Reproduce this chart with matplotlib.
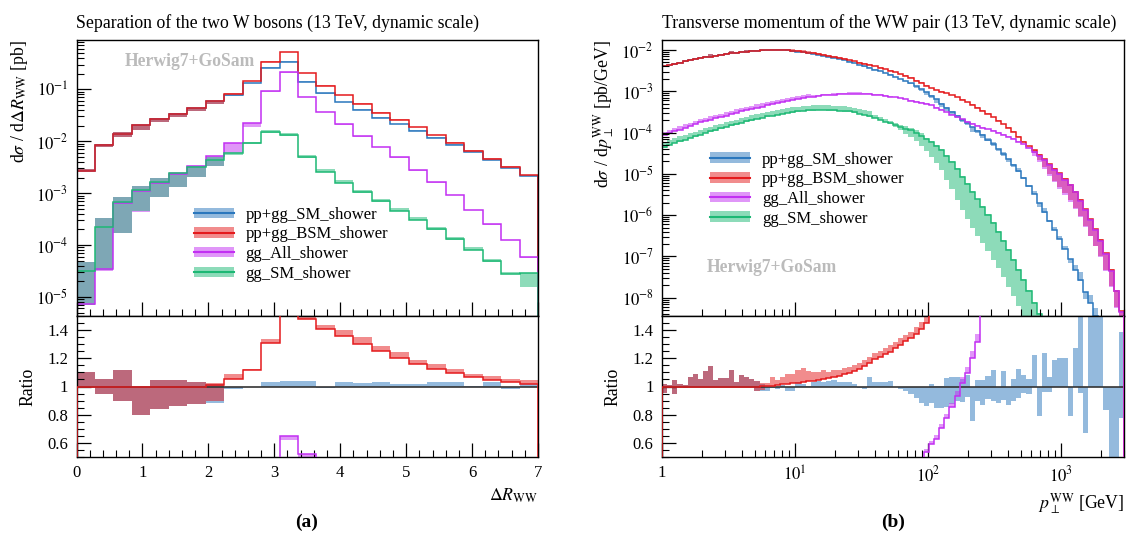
import numpy as np
import matplotlib
matplotlib.use("Agg")
import matplotlib.pyplot as plt
from matplotlib.patches import Patch
from matplotlib.lines import Line2D
from matplotlib import ticker

plt.rcParams['font.family'] = ['Liberation Serif', 'DejaVu Serif']
plt.rcParams['mathtext.fontset'] = 'stix'

names = ["pp+gg_SM_shower", "pp+gg_BSM_shower", "gg_All_shower", "gg_SM_shower"]
colors = ["#2a77bd", "#e41a1c", "#c22ff2", "#1db874"]

# ---- (a) Delta R_WW, 25 bins from 0 to 7
dr_edges = np.linspace(0, 7, 26)
dr_pp_sm = [2.7e-3, 8.3e-3, 0.0136, 0.0206, 0.0273, 0.0336, 0.043, 0.059, 0.077, 0.13, 0.26, 0.33, 0.139,
            0.083, 0.056, 0.040, 0.0285, 0.0214, 0.0159, 0.0116, 0.0086, 0.0062, 0.0044, 0.0031, 0.00216]
dr_pp_bsm = [2.7e-3, 8.3e-3, 0.0136, 0.0206, 0.0273, 0.0336, 0.043, 0.0597, 0.081, 0.145, 0.34, 0.515, 0.206,
             0.117, 0.076, 0.052, 0.0356, 0.0257, 0.0184, 0.013, 0.0094, 0.0066, 0.0046, 0.0032, 0.0022]
dr_gg_all = [7.4e-6, 3.4e-5, 6.5e-4, 1.1e-3, 1.6e-3, 2.3e-3, 3.3e-3, 5.1e-3, 9.4e-3, 0.022, 0.094, 0.214, 0.072,
             0.037, 0.0213, 0.0127, 7.9e-3, 4.9e-3, 2.8e-3, 1.63e-3, 9.3e-4, 4.8e-4, 2.5e-4, 1.27e-4, 6.0e-5]
dr_gg_sm = [3.2e-5, 2.2e-4, 6.7e-4, 1.16e-3, 1.65e-3, 2.4e-3, 3.2e-3, 4.3e-3, 5.8e-3, 9.3e-3, 0.0148, 0.0131, 4.9e-3,
            2.6e-3, 1.6e-3, 1.03e-3, 6.9e-4, 4.6e-4, 3.1e-4, 2.0e-4, 1.3e-4, 8.2e-5, 4.9e-5, 2.8e-5, 2.9e-5]
# relative uncertainty envelopes
dr_pp_sm_lo = [0.995, 0.95, 0.895, 0.80, 0.84, 0.865, 0.875, 0.885, 0.98, 0.995, 1.0, 1.0, 1.0,
               0.99, 1.0, 1.0, 1.0, 1.0, 1.0, 1.0, 1.0, 1.0, 1.0, 0.98, 1.0]
dr_pp_sm_hi = [1.10, 1.05, 1.12, 1.0, 1.045, 1.045, 1.035, 1.015, 1.0, 1.0, 1.03, 1.04, 1.04,
               1.0, 1.03, 1.025, 1.03, 1.02, 1.02, 1.035, 1.03, 1.005, 1.03, 1.0, 1.015]
dr_pp_bsm_lo = [0.995, 0.95, 0.895, 0.80, 0.84, 0.865, 0.875, 0.885, 1.0, 1.0, 1.0, 1.0, 1.0,
                1.0, 1.0, 1.0, 1.0, 1.0, 1.0, 1.0, 1.0, 1.0, 1.0, 1.0, 1.0]
dr_pp_bsm_hi = [1.10, 1.05, 1.12, 1.0, 1.045, 1.045, 1.035, 1.015, 1.035, 1.01, 1.025, 1.025, 1.015,
                1.02, 1.03, 1.04, 1.03, 1.035, 1.025, 1.035, 1.03, 1.025, 1.03, 1.02, 1.025]
dr_gg_all_lo = [0.95, 0.95, 0.26, 0.40, 0.52, 0.56, 0.62, 0.65, 0.62, 0.85, 0.95, 0.96, 0.97,
                0.97, 0.97, 0.97, 0.97, 0.97, 0.97, 0.97, 0.97, 0.97, 0.97, 0.97, 0.95]
dr_gg_all_hi = [6.3, 9.7, 1.32, 1.27, 1.22, 1.09, 1.03, 1.0, 1.0, 1.0, 1.0, 1.0, 1.0,
                1.0, 1.0, 1.0, 1.0, 1.0, 1.0, 1.0, 1.0, 1.0, 1.0, 1.0, 1.0]
dr_gg_sm_lo = [0.22, 0.15, 0.25, 0.39, 0.51, 0.54, 0.63, 0.77, 0.93, 0.93, 0.97, 0.97, 0.97,
               0.97, 0.97, 0.97, 0.97, 0.97, 0.97, 0.97, 0.97, 0.97, 0.97, 0.97, 0.53]
dr_gg_sm_hi = [1.47, 1.5, 1.28, 1.2, 1.18, 1.04, 1.06, 1.16, 1.03, 1.05, 1.12, 1.12, 1.12,
               1.12, 1.12, 1.12, 1.12, 1.12, 1.12, 1.12, 1.12, 1.12, 1.12, 1.08, 1.0]

# ---- (b) pT of the WW pair, 90 log bins from 1 to 3000 GeV (values as log10)
pt_edges = np.logspace(0, np.log10(3000), 91)
pt_pp_sm_log = [-2.39, -2.36, -2.33, -2.305, -2.28, -2.25, -2.23, -2.205, -2.18, -2.16,
                -2.14, -2.12, -2.10, -2.08, -2.065, -2.05, -2.04, -2.025, -2.015, -2.008,
                -2.002, -2.0, -2.0, -2.002, -2.012, -2.025, -2.04, -2.06, -2.08, -2.10,
                -2.12, -2.14, -2.17, -2.195, -2.225, -2.255, -2.29, -2.325, -2.36, -2.395,
                -2.435, -2.475, -2.52, -2.56, -2.60, -2.65, -2.70, -2.75, -2.81, -2.88,
                -2.95, -3.03, -3.11, -3.20, -3.30, -3.40, -3.50, -3.60, -3.69, -3.78,
                -3.87, -3.96, -4.06, -4.17, -4.28, -4.40, -4.52, -4.65, -4.78, -4.92,
                -5.10, -5.30, -5.50, -5.71, -5.92, -6.14, -6.36, -6.58, -6.82, -7.06,
                -7.32, -7.58, -7.86, -8.14, -8.45, -8.8, -9.1, -9.4, -9.7, -10.0]
pt_pp_bsm_log = [-2.39, -2.36, -2.33, -2.305, -2.28, -2.25, -2.23, -2.205, -2.18, -2.16,
                 -2.14, -2.12, -2.10, -2.08, -2.065, -2.05, -2.04, -2.025, -2.015, -2.007,
                 -2.0, -1.998, -1.996, -1.995, -2.003, -2.014, -2.028, -2.045, -2.063, -2.082,
                 -2.10, -2.118, -2.145, -2.167, -2.193, -2.219, -2.25, -2.279, -2.309, -2.336,
                 -2.367, -2.398, -2.437, -2.471, -2.504, -2.545, -2.587, -2.629, -2.682, -2.743,
                 -2.801, -2.869, -2.925, -2.98, -3.01, -3.05, -3.10, -3.15, -3.21, -3.27,
                 -3.33, -3.40, -3.47, -3.55, -3.63, -3.71, -3.80, -3.89, -3.98, -4.10,
                 -4.23, -4.33, -4.43, -4.54, -4.65, -4.77, -4.88, -4.99, -5.12, -5.26,
                 -5.43, -5.63, -5.86, -6.10, -6.34, -6.60, -6.93, -7.33, -7.83, -8.33]
pt_gg_all_log = [-4.06, -4.02, -3.97, -3.93, -3.88, -3.84, -3.79, -3.75, -3.72, -3.69,
                 -3.66, -3.62, -3.59, -3.56, -3.52, -3.49, -3.46, -3.43, -3.40, -3.37,
                 -3.34, -3.31, -3.29, -3.26, -3.24, -3.21, -3.19, -3.17, -3.15, -3.13,
                 -3.12, -3.10, -3.09, -3.08, -3.07, -3.065, -3.06, -3.06, -3.06, -3.065,
                 -3.07, -3.08, -3.095, -3.11, -3.13, -3.15, -3.175, -3.20, -3.23, -3.255,
                 -3.28, -3.30, -3.34, -3.40, -3.45, -3.51, -3.57, -3.63, -3.68, -3.74,
                 -3.79, -3.84, -3.88, -3.92, -3.96, -4.00, -4.05, -4.10, -4.16, -4.22,
                 -4.29, -4.37, -4.46, -4.56, -4.67, -4.79, -4.90, -5.01, -5.14, -5.28,
                 -5.45, -5.65, -5.88, -6.12, -6.36, -6.62, -6.95, -7.35, -7.85, -8.35]
pt_gg_sm_log = [-4.35, -4.30, -4.25, -4.21, -4.17, -4.13, -4.09, -4.05, -4.01, -3.97,
                -3.94, -3.90, -3.86, -3.83, -3.80, -3.76, -3.73, -3.70, -3.67, -3.64,
                -3.61, -3.59, -3.565, -3.54, -3.52, -3.505, -3.49, -3.475, -3.465, -3.455,
                -3.45, -3.45, -3.455, -3.46, -3.47, -3.48, -3.49, -3.51, -3.54, -3.57,
                -3.60, -3.64, -3.69, -3.74, -3.78, -3.82, -3.87, -3.91, -3.95, -4.01,
                -4.08, -4.15, -4.23, -4.32, -4.42, -4.56, -4.72, -4.89, -5.07, -5.25,
                -5.43, -5.62, -5.80, -5.99, -6.20, -6.40, -6.62, -6.85, -7.08, -7.32,
                -7.58, -7.84, -8.12, -8.40, -8.70, -9.0, -9.3, -9.6, -9.9, -10.2,
                -10.5, -10.8, -11.1, -11.4, -11.7, -12.0, -12.3, -12.6, -12.9, -13.2]
pt_pp_sm_lo = [0.955, 0.99, 0.948, 0.995, 0.99, 0.995, 1.0, 1.0, 1.0, 1.0,
               1.0, 1.0, 1.0, 1.0, 1.0, 1.0, 1.0, 1.0, 0.97, 0.97,
               0.97, 0.99, 0.98, 1.0, 0.97, 0.965, 1.0, 1.0, 1.0, 1.0,
               1.0, 1.0, 1.0, 1.0, 1.0, 1.0, 1.0, 1.0, 0.99, 0.985,
               1.0, 1.0, 1.0, 1.0, 1.0, 0.995, 0.985, 0.97, 0.95, 0.917,
               0.883, 0.864, 0.883, 0.845, 0.845, 0.852, 0.876, 0.9, 0.888, 0.924,
               0.757, 0.9, 0.869, 0.912, 0.9, 0.883, 0.907, 0.869, 0.9, 0.917,
               0.955, 0.948, 1.0, 0.793, 0.96, 0.96, 1.0, 1.0, 1.0, 0.793,
               1.0, 0.952, 0.67, 1.0, 1.0, 1.0, 0.833, 0.4, 0.4, 0.774]
pt_pp_sm_hi = [1.015, 1.01, 1.048, 1.02, 1.01, 1.067, 1.09, 1.055, 1.107, 1.145,
               1.043, 1.06, 1.06, 1.12, 1.03, 1.08, 1.064, 1.055, 1.036, 1.02,
               1.0, 1.0, 1.0, 1.01, 1.0, 1.0, 1.03, 1.02, 1.005, 1.03,
               1.04, 1.03, 1.04, 1.045, 1.03, 1.03, 1.03, 1.02, 1.0, 1.0,
               1.067, 1.03, 1.03, 1.03, 1.04, 1.0, 1.0, 1.0, 1.0, 1.0,
               1.0, 1.0, 1.02, 1.007, 1.007, 1.062, 1.067, 1.067, 1.055, 1.083,
               1.0, 1.048, 1.048, 1.071, 1.12, 1.0, 1.11, 1.0, 1.055, 1.126,
               1.083, 1.055, 1.226, 1.0, 1.24, 1.067, 1.19, 1.2, 1.2, 1.0,
               1.276, 1.6, 1.0, 1.6, 1.6, 1.6, 1.0, 1.0, 1.0, 1.39]
pt_pp_bsm_lo = [0.955, 0.99, 0.948, 0.995, 0.99, 0.995, 1.0, 1.0, 1.0, 1.0,
                1.0, 1.0, 1.0, 1.0, 1.0, 1.0, 1.0, 1.0, 0.97, 0.97,
                1.0, 1.0, 1.0, 1.0, 1.0, 1.0, 1.0, 1.0, 1.0, 1.0,
                1.0, 1.0, 1.0, 1.0, 1.0, 1.0, 1.0, 1.0, 1.0, 1.0,
                1.0, 1.0, 1.0, 1.0, 1.0, 1.0, 1.0, 1.0, 1.0, 1.0,
                1.0, 1.0, 1.0, 1.0, 1.0, 1.0, 1.0, 1.0, 1.0, 1.0,
                1.0, 1.0, 1.0, 1.0, 1.0, 1.0, 1.0, 1.0, 1.0, 1.0,
                1.0, 1.0, 0.85, 0.75, 0.65, 0.58, 0.52, 0.47, 0.44, 0.42,
                0.4, 0.4, 0.4, 0.4, 0.4, 0.4, 0.4, 0.4, 0.4, 0.4]
pt_pp_bsm_hi = [1.015, 1.01, 1.048, 1.02, 1.01, 1.067, 1.09, 1.055, 1.107, 1.145,
                1.043, 1.06, 1.06, 1.12, 1.03, 1.08, 1.064, 1.055, 1.036, 1.02,
                1.02, 1.06, 1.04, 1.05, 1.065, 1.06, 1.09, 1.09, 1.07, 1.06,
                1.05, 1.06, 1.04, 1.05, 1.04, 1.04, 1.04, 1.035, 1.035, 1.035,
                1.035, 1.035, 1.035, 1.035, 1.035, 1.035, 1.035, 1.035, 1.035, 1.035,
                1.035, 1.035, 1.03, 1.03, 1.03, 1.03, 1.03, 1.03, 1.03, 1.03,
                1.03, 1.03, 1.03, 1.03, 1.03, 1.03, 1.03, 1.03, 1.03, 1.03,
                1.03, 1.03, 1.03, 1.03, 1.03, 1.03, 1.03, 1.03, 1.03, 1.03,
                1.03, 1.03, 1.03, 1.03, 1.03, 1.03, 1.03, 1.03, 1.03, 1.03]
pt_gg_all_lo = [1.0] * 72 + [0.8, 0.7, 0.6, 0.55, 0.5, 0.45, 0.42, 0.4, 0.4,
                             0.4, 0.4, 0.4, 0.4, 0.4, 0.4, 0.4, 0.4, 0.4]
pt_gg_all_hi = [1.2] * 29 + [1.08] * 12 + [1.04] * 49
pt_gg_sm_lo = [0.97] * 45 + [0.9, 0.83, 0.76, 0.69, 0.63, 0.56, 0.5, 0.44, 0.38, 0.32,
                             0.26, 0.22, 0.18, 0.16, 0.14] + [0.13] * 30
pt_gg_sm_hi = [1.3] * 41 + [1.15] * 10 + [1.05] * 39

FS = 12.8


def draw_panel(rect_main, rect_ratio, edges, vals, los, his, ylim_main):
    ax = fig.add_axes(rect_main)
    axr = fig.add_axes(rect_ratio, sharex=ax)
    ref = np.asarray(vals[0], float)
    for v, lo, hi, c in zip(vals, los, his, colors):
        v = np.asarray(v, float)
        ax.stairs(v * np.asarray(hi), edges, baseline=v * np.asarray(lo), fill=True,
                  color=c, alpha=0.5, lw=0)
        axr.stairs(v * np.asarray(hi) / ref, edges, baseline=v * np.asarray(lo) / ref,
                   fill=True, color=c, alpha=0.5, lw=0)
    for v, c in zip(vals, colors):
        v = np.asarray(v, float)
        ax.stairs(v, edges, color=c, lw=1.1)
    axr.axhline(1.0, color="#333333", lw=1.2, zorder=2.5)
    for v, c in zip(vals[1:], colors[1:]):
        v = np.asarray(v, float)
        axr.stairs(v / ref, edges, color=c, lw=1.1, zorder=3)
    ax.set_yscale("log")
    ax.set_ylim(*ylim_main)
    ax.set_xlim(edges[0], edges[-1])
    axr.set_ylim(0.5, 1.5)
    axr.yaxis.set_major_locator(ticker.FixedLocator([0.6, 0.8, 1.0, 1.2, 1.4]))
    axr.yaxis.set_major_formatter(ticker.FuncFormatter(lambda y, p: "%g" % y))
    axr.yaxis.set_minor_locator(ticker.MultipleLocator(0.05))
    axr.set_ylabel("Ratio", fontsize=FS, labelpad=8)
    for a in (ax, axr):
        a.tick_params(which="both", direction="in", top=False, right=False, labelsize=12, pad=6)
        a.tick_params(which="major", length=10, width=0.9)
        a.tick_params(which="minor", length=5, width=0.8)
        for s in a.spines.values():
            s.set_linewidth(1.0)
    ax.tick_params(labelbottom=False)
    ax.yaxis.set_minor_formatter(ticker.NullFormatter())
    return ax, axr


fig = plt.figure(figsize=(11.26, 5.43), dpi=100)

W, H = 1126.0, 543.0
main_b, main_h = 1 - 316 / H, 276 / H
rat_b, rat_h = 1 - 457 / H, 141 / H

# ---------- panel (a)
la, lw_ = 76.5 / W, 461.5 / W
ax1, ax1r = draw_panel([la, main_b, lw_, main_h], [la, rat_b, lw_, rat_h], dr_edges,
                       [dr_pp_sm, dr_pp_bsm, dr_gg_all, dr_gg_sm],
                       [dr_pp_sm_lo, dr_pp_bsm_lo, dr_gg_all_lo, dr_gg_sm_lo],
                       [dr_pp_sm_hi, dr_pp_bsm_hi, dr_gg_all_hi, dr_gg_sm_hi],
                       (4.3e-6, 0.89))
ax1.yaxis.set_major_locator(ticker.FixedLocator([1e-5, 1e-4, 1e-3, 1e-2, 1e-1]))
ax1.yaxis.set_major_formatter(ticker.FixedFormatter(
    [r"$10^{-5}$", r"$10^{-4}$", r"$10^{-3}$", r"$10^{-2}$", r"$10^{-1}$"]))
ax1.xaxis.set_major_locator(ticker.MultipleLocator(1))
ax1.xaxis.set_minor_locator(ticker.MultipleLocator(0.2))
ax1.set_title("Separation of the two W bosons (13 TeV, dynamic scale)", loc="left",
              fontsize=FS, pad=9)
ax1.set_ylabel(r"d$\sigma$ / d$\Delta R_{\mathrm{WW}}$ [pb]", loc="top", fontsize=FS)
ax1r.set_xlabel(r"$\Delta R_{\mathrm{WW}}$", loc="right", fontsize=FS)
ax1.text(0.245, 0.922, "Herwig7+GoSam", transform=ax1.transAxes, ha="center", va="center",
         color="#bbbbbb", fontsize=12.7, fontweight="bold")

# ---------- panel (b)
lb, lwb = 662 / W, 462 / W
pt_vals = [10 ** np.array(pt_pp_sm_log), 10 ** np.array(pt_pp_bsm_log),
           10 ** np.array(pt_gg_all_log), 10 ** np.array(pt_gg_sm_log)]
ax2, ax2r = draw_panel([lb, main_b, lwb, main_h], [lb, rat_b, lwb, rat_h], pt_edges,
                       pt_vals,
                       [pt_pp_sm_lo, pt_pp_bsm_lo, pt_gg_all_lo, pt_gg_sm_lo],
                       [pt_pp_sm_hi, pt_pp_bsm_hi, pt_gg_all_hi, pt_gg_sm_hi],
                       (3.6e-9, 0.0174))
ax2.set_xscale("log")
ax2.set_xlim(1, 3000)
ax2.yaxis.set_major_locator(ticker.FixedLocator([1e-8, 1e-7, 1e-6, 1e-5, 1e-4, 1e-3, 1e-2]))
ax2.yaxis.set_major_formatter(ticker.FixedFormatter(
    [r"$10^{-8}$", r"$10^{-7}$", r"$10^{-6}$", r"$10^{-5}$", r"$10^{-4}$", r"$10^{-3}$", r"$10^{-2}$"]))
ax2r.xaxis.set_major_locator(ticker.FixedLocator([1, 10, 100, 1000]))
ax2r.xaxis.set_major_formatter(ticker.FixedFormatter(["1", r"$10^{1}$", r"$10^{2}$", r"$10^{3}$"]))
ax2r.xaxis.set_minor_locator(ticker.LogLocator(base=10, subs=np.arange(2, 10), numticks=20))
ax2r.xaxis.set_minor_formatter(ticker.NullFormatter())
ax2.set_title("Transverse momentum of the WW pair (13 TeV, dynamic scale)", loc="left",
              fontsize=FS, pad=9)
ax2.set_ylabel(r"d$\sigma$ / d$p_{\perp}^{\mathrm{WW}}$ [pb/GeV]", loc="top", fontsize=FS)
ax2r.set_xlabel(r"$p_{\perp}^{\mathrm{WW}}$ [GeV]", loc="right", fontsize=FS)
ax2.text(0.238, 0.174, "Herwig7+GoSam", transform=ax2.transAxes, ha="center", va="center",
         color="#bbbbbb", fontsize=12.7, fontweight="bold")

# legends
handles = [(Patch(facecolor=c, alpha=0.5, lw=0), Line2D([], [], color=c, lw=1.5)) for c in colors]
for a, anchor in ((ax1, (0.24, 0.42)), (ax2, (0.09, 0.62))):
    a.legend(handles, names, loc="upper left", bbox_to_anchor=anchor, frameon=False,
             fontsize=12, handlelength=2.4, handleheight=0.6, labelspacing=0.22,
             handletextpad=0.7, borderaxespad=0)

fig.text(307 / W, 1 - 522 / H, "(a)", ha="center", va="center", fontsize=14, fontweight="bold")
fig.text(893 / W, 1 - 522 / H, "(b)", ha="center", va="center", fontsize=14, fontweight="bold")

fig.savefig("out.png", dpi=100)
